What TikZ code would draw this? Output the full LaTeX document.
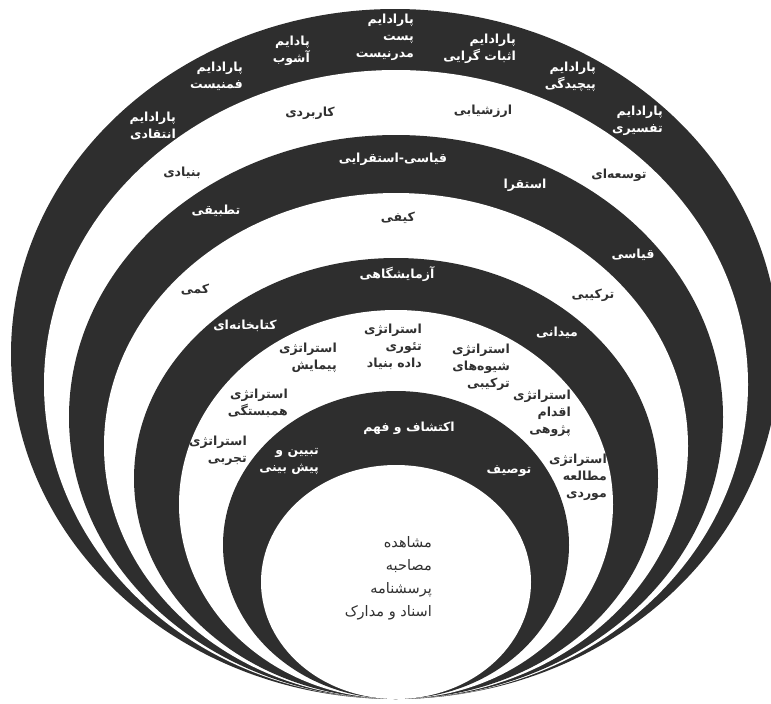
\documentclass[tikz,border=0pt]{standalone}
\usepackage{fontspec}
\newfontfamily\persianfont[Script=Arabic]{DejaVu Sans}
\TeXXeTstate=1
\definecolor{onion}{HTML}{2E2E2E}
\definecolor{inktext}{HTML}{303030}
\newcommand{\fa}[1]{\beginR #1\endR}

\begin{document}
\begin{tikzpicture}[x=1pt, y=-1pt,
    every node/.style={font=\persianfont\bfseries\fontsize{12.5}{17}\selectfont, align=right, inner sep=0pt},
    ondark/.style={text=white}, onlight/.style={text=inktext}]
            \useasboundingbox (0,0) rectangle (771,704);
            % Define rings
            \fill[onion] (395,354) ellipse [x radius=384, y radius=345];
            \fill[white] (396,384.5) ellipse [x radius=352, y radius=314.5];
            \fill[onion] (396,417) ellipse [x radius=327, y radius=282];
            \fill[white] (396,446) ellipse [x radius=292, y radius=253];
            \fill[onion] (396,478.5) ellipse [x radius=262, y radius=220.5];
            \fill[white] (396,504.5) ellipse [x radius=217, y radius=194.5];
            \fill[onion] (396,545) ellipse [x radius=173, y radius=154];
            \fill[white] (396,582) ellipse [x radius=135, y radius=117];

            % Paradigms
            \node (postmodern) [ondark, anchor=east] at (414,37.5) {\fa{پارادایم}\\\fa{پست}\\\fa{مدرنیست}};
            \node (chaos) [ondark, anchor=east] at (310,50.5) {\fa{پادایم}\\\fa{آشوب}};
            \node (positivism) [ondark, anchor=east] at (516,48.5) {\fa{پارادایم}\\\fa{اثبات گرایی}};
            \node (feminism) [ondark, anchor=east] at (243,76) {\fa{پارادایم}\\\fa{فمنیست}};
            \node (complexity) [ondark, anchor=east] at (596,76.5) {\fa{پارادایم}\\\fa{پیچیدگی}};
            \node (critical) [ondark, anchor=east] at (176,125.5) {\fa{پارادایم}\\\fa{انتقادی}};
            \node (interpretive) [ondark, anchor=east] at (663,121) {\fa{پارادایم}\\\fa{تفسیری}};

            % Purposes
            \node (applied) [onlight] at (310,113) {\fa{کاربردی}};
            \node (evaluation) [onlight] at (483,111) {\fa{ارزشیابی}};
            \node (basic) [onlight] at (182,173) {\fa{بنیادی}};
            \node (developmental) [onlight] at (619,175) {\fa{توسعه‌ای}};

            % Approaches
            \node (abductive) [ondark] at (393,159) {\fa{قیاسی-استقرایی}};
            \node (inductive) [ondark] at (525,185) {\fa{استقرا}};
            \node (comparative) [ondark] at (216,211) {\fa{تطبیقی}};
            \node (deductive) [ondark] at (633,255) {\fa{قیاسی}};

            % Methods
            \node (qualitative) [onlight] at (398,218) {\fa{کیفی}};
            \node (quantitative) [onlight] at (195,290) {\fa{کمی}};
            \node (mixed) [onlight] at (593,295) {\fa{ترکیبی}};

            % Settings
            \node (lab) [ondark] at (397,274) {\fa{آزمایشگاهی}};
            \node (library) [ondark] at (245,326) {\fa{کتابخانه‌ای}};
            \node (field) [ondark] at (557,333) {\fa{میدانی}};

            % Strategies
            \node (grounded) [onlight, anchor=east] at (422,347) {\fa{استراتژی}\\\fa{تئوری}\\\fa{داده بنیاد}};
            \node (survey) [onlight, anchor=east] at (337,358) {\fa{استراتژی}\\\fa{پیمایش}};
            \node (mixedstrat) [onlight, anchor=east] at (510,367) {\fa{استراتژی}\\\fa{شیوه‌های}\\\fa{ترکیبی}};
            \node (correlation) [onlight, anchor=east] at (288,403.5) {\fa{استراتژی}\\\fa{همبستگی}};
            \node (action) [onlight, anchor=east] at (571,413) {\fa{استراتژی}\\\fa{اقدام}\\\fa{پژوهی}};
            \node (experiment) [onlight, anchor=east] at (247,451) {\fa{استراتژی}\\\fa{تجربی}};
            \node (casestudy) [onlight, anchor=east] at (607,477.5) {\fa{استراتژی}\\\fa{مطالعه}\\\fa{موردی}};

            % Goals
            \node (explore) [ondark] at (409,428) {\fa{اکتشاف و فهم}};
            \node (explain) [ondark, anchor=east] at (319,461.5) {\fa{تبیین و}\\\fa{پیش بینی}};
            \node (describe) [ondark] at (509,471) {\fa{توصیف}};

            % Data collection
            \node (collection) [onlight, anchor=east, font=\persianfont\fontsize{14.5}{23}\selectfont] at (432,578)
                {\fa{مشاهده}\\\fa{مصاحبه}\\\fa{پرسشنامه}\\\fa{اسناد و مدارک}};
        \end{tikzpicture}
\end{document}
